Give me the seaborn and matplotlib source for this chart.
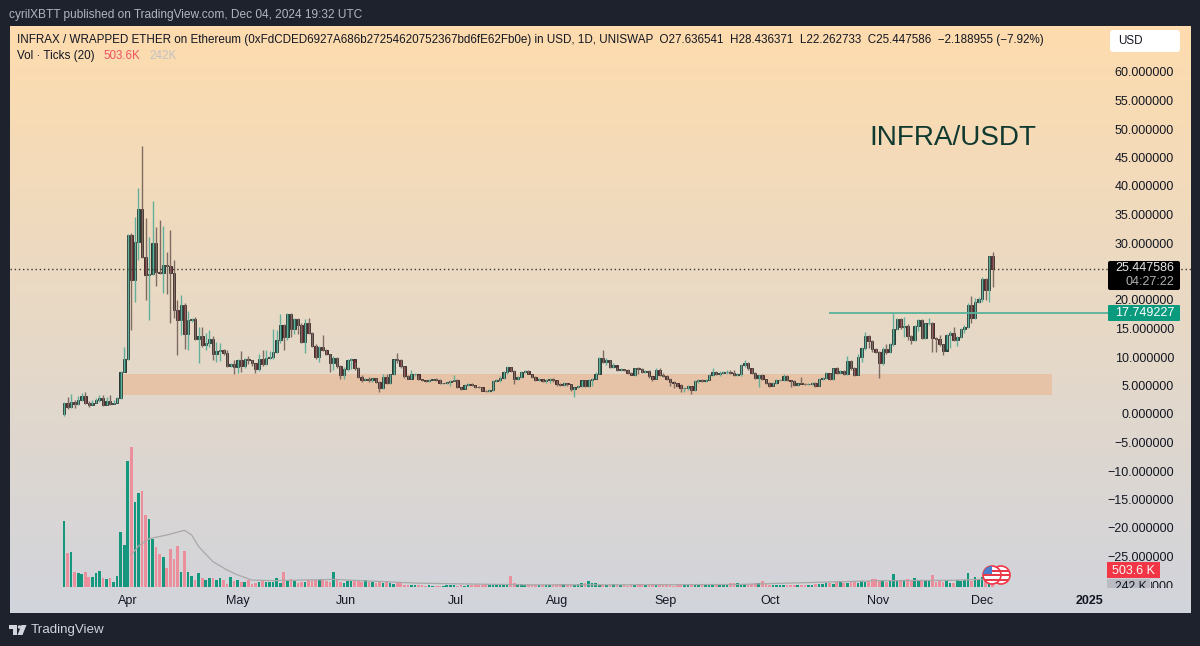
"""
INFRA/USDT daily candles with ticks volume, TradingView style
"""
import numpy as np
import pandas as pd
import matplotlib
matplotlib.use('Agg')
import matplotlib.pyplot as plt
from matplotlib.colors import LinearSegmentedColormap
from matplotlib.patches import Circle, FancyBboxPatch, Polygon, Rectangle
import seaborn as sns

first_open = 0.0
closes = [1.85, 1.3, 2.1, 1.7, 2.5, 3.1, 1.9, 1.6, 1.9, 2.4, 2.8, 1.6, 2.3, 1.8, 2.0, 2.8, 7.4, 9.7, 31.4, 23.5,
          30.2, 36.0, 27.6, 24.4, 24.5, 30.0, 25.0, 24.8, 26.1, 25.9, 24.7, 18.2, 16.5, 19.1, 14.1, 16.5, 16.7, 13.1, 13.7, 12.1,
          12.4, 13.2, 10.6, 11.1, 11.2, 10.7, 8.4, 8.7, 8.2, 9.5, 8.5, 9.6, 9.5, 8.9, 7.9, 9.7, 8.8, 9.9, 10.0, 10.9,
          13.0, 15.6, 13.5, 17.6, 15.0, 16.6, 15.6, 12.7, 15.9, 14.2, 12.0, 10.0, 11.8, 11.2, 10.5, 9.0, 9.9, 8.4, 6.85, 7.85,
          9.5, 9.6, 8.1, 6.55, 5.95, 6.1, 5.9, 6.3, 5.7, 4.5, 6.5, 5.4, 6.95, 9.65, 9.5, 8.4, 6.7, 6.2, 7.0, 7.0,
          6.1, 5.95, 5.8, 6.0, 6.1, 6.0, 5.4, 5.4, 5.6, 5.8, 6.0, 4.7, 4.35, 5.1, 5.3, 5.1, 4.8, 4.7, 4.1, 3.95,
          4.2, 5.85, 6.0, 6.4, 7.3, 8.2, 7.6, 6.1, 6.5, 7.4, 7.5, 7.1, 6.55, 5.95, 6.2, 5.8, 5.9, 6.2, 5.9, 5.2,
          5.1, 5.4, 5.2, 4.3, 4.7, 4.9, 5.9, 4.9, 6.0, 6.2, 7.1, 9.9, 9.2, 9.5, 8.2, 8.6, 7.8, 7.9, 7.8, 7.2,
          6.9, 8.0, 7.9, 7.4, 7.6, 6.6, 6.2, 7.8, 6.9, 6.7, 6.1, 5.6, 5.4, 5.0, 4.5, 4.5, 4.9, 4.2, 5.85, 5.95,
          5.85, 6.0, 6.8, 7.4, 7.0, 7.2, 7.3, 7.35, 7.2, 6.85, 6.95, 8.6, 8.9, 8.0, 7.2, 6.4, 6.85, 6.1, 5.5, 5.0,
          5.4, 5.95, 6.0, 6.75, 5.9, 5.85, 5.1, 5.4, 5.35, 5.2, 5.3, 5.5, 5.0, 6.1, 6.3, 7.15, 6.1, 8.0, 7.2, 7.5,
          7.0, 9.35, 8.0, 6.9, 9.95, 11.5, 13.7, 12.8, 11.35, 10.9, 8.9, 11.35, 10.8, 12.2, 14.9, 16.65, 15.2, 15.4, 13.7, 13.0,
          15.4, 16.5, 13.4, 15.9, 16.0, 13.3, 13.1, 12.2, 11.1, 13.9, 14.15, 12.9, 13.45, 14.85, 15.3, 19.2, 16.8, 19.7, 20.1, 23.6,
          21.75, 27.64, 25.45]
highs = [2.1, 3.0, 3.5, 2.4, 3.1, 3.6, 3.9, 2.2, 2.4, 2.8, 3.3, 3.3, 3.0, 3.4, 2.5, 3.0, 7.5, 11.8, 31.6, 31.8,
         34.6, 39.6, 47.0, 34.3, 31.0, 37.4, 32.8, 34.1, 33.0, 28.5, 32.3, 27.0, 20.0, 20.9, 19.5, 18.0, 16.9, 17.0, 15.3, 15.3,
         14.2, 14.7, 13.6, 12.7, 12.4, 11.4, 11.2, 8.9, 9.4, 9.6, 11.0, 9.8, 10.1, 9.5, 9.0, 10.6, 11.2, 11.2, 11.0, 15.0,
         14.7, 17.6, 15.8, 17.8, 17.7, 16.8, 16.9, 16.0, 16.6, 16.8, 14.4, 12.2, 12.0, 13.8, 11.4, 10.6, 10.1, 10.0, 8.6, 8.3,
         9.7, 9.8, 9.2, 8.3, 6.8, 6.4, 6.5, 6.4, 6.4, 5.8, 7.0, 7.1, 7.1, 9.7, 10.7, 9.6, 8.5, 6.9, 7.8, 7.2,
         6.8, 6.2, 6.0, 6.1, 6.2, 6.4, 6.1, 5.5, 5.7, 5.9, 6.8, 6.1, 4.8, 5.2, 5.4, 5.4, 5.1, 4.9, 4.7, 4.2,
         4.3, 5.9, 6.2, 6.6, 7.5, 8.5, 8.3, 7.7, 6.6, 7.6, 7.7, 7.7, 7.1, 6.6, 6.4, 6.2, 6.1, 6.4, 6.3, 5.9,
         5.4, 5.6, 5.4, 5.2, 4.8, 5.1, 6.0, 6.0, 6.2, 6.3, 7.3, 10.0, 11.2, 9.9, 9.5, 9.0, 8.3, 8.1, 7.95, 7.9,
         7.3, 8.1, 8.3, 8.1, 7.8, 7.7, 6.7, 8.1, 8.0, 7.2, 6.8, 6.3, 5.8, 5.5, 5.3, 4.7, 5.1, 5.0, 6.0, 6.1,
         6.1, 6.2, 7.0, 8.1, 7.6, 7.6, 7.5, 7.7, 7.7, 7.7, 7.2, 8.7, 9.5, 9.2, 8.0, 7.3, 7.0, 7.0, 6.2, 5.6,
         5.6, 6.2, 6.1, 7.0, 6.9, 6.0, 5.9, 5.5, 6.5, 5.4, 5.5, 5.7, 5.6, 6.3, 6.5, 7.3, 7.2, 8.1, 8.2, 7.7,
         7.7, 10.2, 9.5, 8.2, 10.5, 11.7, 14.3, 13.9, 12.9, 11.6, 11.0, 11.8, 12.2, 12.5, 17.8, 16.8, 16.9, 17.0, 15.8, 13.9,
         15.6, 16.7, 16.6, 16.0, 16.9, 16.1, 13.5, 13.9, 12.2, 14.1, 14.6, 15.3, 13.7, 15.1, 15.6, 19.4, 20.7, 20.3, 20.6, 24.0,
         23.9, 27.8, 28.44]
lows = [-0.3, 0.9, 1.0, 1.1, 1.6, 2.2, 1.8, 1.3, 1.5, 1.9, 2.1, 1.4, 1.5, 1.6, 1.7, 2.0, 2.7, 7.3, 9.5, 14.7,
        19.7, 27.0, 27.3, 20.0, 16.5, 24.3, 22.4, 24.5, 21.3, 21.0, 15.9, 16.8, 10.3, 13.8, 11.4, 11.2, 16.2, 13.0, 9.0, 11.8,
        11.2, 11.8, 9.5, 9.2, 9.3, 10.4, 8.2, 8.2, 7.1, 7.2, 7.4, 8.0, 8.7, 8.4, 7.2, 7.6, 8.5, 8.6, 9.6, 9.7,
        10.7, 12.5, 11.2, 13.0, 13.5, 14.0, 14.0, 12.5, 10.7, 14.0, 11.8, 9.7, 9.2, 11.0, 10.3, 7.4, 7.8, 8.0, 6.2, 6.2,
        7.5, 7.9, 7.8, 6.3, 5.7, 5.9, 5.7, 5.6, 5.5, 3.9, 4.4, 5.2, 5.3, 6.9, 9.0, 8.0, 6.4, 6.1, 6.1, 6.7,
        5.9, 5.8, 5.6, 5.7, 5.9, 5.8, 5.2, 5.2, 5.3, 5.0, 5.8, 4.6, 4.2, 4.3, 5.0, 5.0, 4.6, 4.5, 4.0, 3.8,
        3.9, 4.1, 5.6, 5.7, 6.2, 7.0, 7.3, 5.25, 5.9, 6.3, 7.2, 7.0, 6.4, 5.8, 5.8, 5.6, 5.5, 5.5, 5.7, 5.0,
        4.9, 4.9, 4.9, 4.0, 2.9, 4.6, 4.7, 4.7, 4.7, 4.9, 6.1, 7.0, 9.0, 8.6, 8.0, 8.1, 7.6, 7.6, 7.6, 7.0,
        6.8, 6.7, 7.0, 7.2, 7.2, 6.4, 5.8, 6.2, 6.7, 6.5, 5.9, 5.0, 4.6, 4.7, 3.9, 3.9, 4.2, 3.5, 4.1, 5.4,
        5.6, 5.7, 5.9, 6.6, 6.8, 6.7, 7.0, 7.1, 7.0, 6.7, 6.6, 6.6, 8.3, 7.8, 7.0, 6.2, 4.8, 5.9, 5.3, 4.8,
        4.9, 5.3, 5.8, 5.8, 5.8, 4.8, 4.9, 5.0, 5.2, 5.1, 5.1, 5.1, 4.7, 4.9, 6.0, 6.2, 6.0, 5.9, 7.0, 7.0,
        6.8, 6.9, 7.7, 6.6, 6.9, 9.2, 11.3, 11.5, 10.8, 10.7, 6.4, 8.6, 10.6, 10.7, 11.9, 14.7, 14.9, 13.5, 13.0, 12.2,
        12.8, 14.5, 13.1, 13.2, 15.7, 10.8, 10.9, 12.0, 10.3, 11.4, 11.5, 12.8, 12.0, 13.3, 14.2, 15.1, 16.0, 16.7, 19.4, 19.6,
        20.0, 19.6, 22.26]
# volume in K
volumes = [2079, 1050, 1100, 470, 440, 400, 460, 295, 295, 420, 505, 285, 230, 275, 160, 325, 1720, 1300, 3970, 4400,
           2660, 2960, 3020, 2250, 2120, 1510, 1260, 1020, 935, 580, 1200, 860, 1280, 460, 1120, 460, 335, 210, 430, 260,
           220, 285, 260, 220, 270, 210, 85, 295, 180, 210, 160, 135, 200, 95, 125, 160, 200, 160, 135, 145,
           270, 125, 450, 190, 230, 180, 125, 160, 160, 220, 200, 200, 200, 250, 170, 135, 460, 200, 135, 115,
           190, 170, 210, 200, 160, 220, 160, 140, 130, 170, 120, 190, 130, 90, 110, 130, 60, 50, 60, 45,
           40, 50, 35, 45, 30, 25, 35, 30, 45, 50, 40, 35, 45, 30, 40, 50, 55, 45, 60, 70, 55, 50, 65, 60, 70, 85,
           340, 110, 90, 75, 60, 50, 55, 45, 60, 50, 55, 40, 60, 55, 70, 80, 60, 70, 60, 90, 110, 130, 170, 130,
           110, 60, 50, 40, 55, 70, 45, 50, 40, 35, 60, 50, 80, 70, 55, 90, 75, 60, 85, 50, 45,
           40, 35, 55, 50, 45, 60, 40, 50, 60, 45, 40, 55, 60, 70, 50, 45, 90, 110, 130, 120, 90, 80, 60, 70, 110, 130,
           180,
           70, 50, 55, 60, 65, 50, 45, 55, 60, 50, 45, 60, 50, 55, 70, 90, 100,
           110, 130, 90, 150, 170, 130, 110, 160, 190, 120, 170, 150, 180, 230, 240, 170, 190, 140, 200, 400,
           170, 220, 190, 230, 200, 260, 220, 180, 210, 200, 370, 160, 200, 150, 210, 130, 110, 200, 180, 210,
           420, 190, 300, 250, 290, 350, 320, 503.6]
ma_days = [19, 21, 24, 29, 34, 36, 38, 42, 46, 49, 53, 59, 76, 100, 130, 160, 190, 210, 230, 250, 262]
ma_values = [1000, 1280, 1510, 1630, 1775, 1630, 1260, 790, 525, 370, 210, 190, 230, 110, 60, 60, 70, 130, 190, 200, 242]

# 25.000000 sits under the last-price badge in the original, so it is left out
price_ticks = [60, 55, 50, 45, 40, 35, 30, 20, 15, 10, 5, 0, -5, -10, -15, -20, -25]
month_px = [128, 238, 346, 456, 557, 666, 770, 878, 982, 1090]
month_labels = ['Apr', 'May', 'Jun', 'Jul', 'Aug', 'Sep', 'Oct', 'Nov', 'Dec', '2025']
last_price = 25.447586
level_price = 17.749227
zone_low, zone_high = 3.4, 7.05

# pixel layout of the panel
PANEL = (10, 26, 1191, 613)
FIRST_PX, LAST_PX = 64.0, 992.7
ZERO_PY, PX_PER_USD = 414.0, 5.7
VOL_BASE_PY, K_PER_PX = 586.7, 31.5

DARK = '#1e222d'
UP_BODY, DOWN_BODY = '#1a5c4c', '#7c2a36'
UP_WICK, DOWN_WICK = '#62b09b', '#7e6b62'
TEXT = '#131722'

sns.set_theme(style='white')
plt.rcParams['font.family'] = ['Liberation Sans', 'DejaVu Sans']

spacing = (LAST_PX - FIRST_PX) / (len(closes) - 1)


def px_to_day(px):
    return (px - FIRST_PX) / spacing


opens = np.array([first_open] + closes[:-1])
closes_a = np.array(closes)
days = np.arange(len(closes))
rising = closes_a >= opens

fig = plt.figure(figsize=(12, 6.46), dpi=100, facecolor=DARK)
left, top, right, bottom = PANEL
rect = [left / 1200, 1 - bottom / 646, (right - left) / 1200, (bottom - top) / 646]

# gradient behind the chart
ax_bg = fig.add_axes(rect, zorder=0)
cmap = LinearSegmentedColormap.from_list('panel', ['#fedcae', '#e8d9c6', '#d1d4dc'])
ax_bg.imshow(np.linspace(0, 1, 256).reshape(-1, 1), aspect='auto', cmap=cmap)
ax_bg.axis('off')

# candles
ax = fig.add_axes(rect, zorder=1, facecolor='none')
ax.add_patch(Rectangle((px_to_day(122), zone_low), px_to_day(1052) - px_to_day(122), zone_high - zone_low,
                       facecolor='#e9b48f', alpha=0.6, edgecolor='none'))
ax.vlines(days[rising], np.array(lows)[rising], np.array(highs)[rising], color=UP_WICK, lw=1)
ax.vlines(days[~rising], np.array(lows)[~rising], np.array(highs)[~rising], color=DOWN_WICK, lw=1)
ax.bar(days, np.abs(closes_a - opens), bottom=np.minimum(closes_a, opens), width=0.72,
       color=[UP_BODY if r else DOWN_BODY for r in rising], edgecolor='#101010', linewidth=0.5)
ax.axhline(last_price, color='#3a3a3a', lw=1, ls=(0, (1, 2)))
ax.hlines(level_price, px_to_day(829), px_to_day(1108), color='#57b29c', lw=1.3)

ax.set_xlim(px_to_day(left), px_to_day(right))
ax.set_ylim((ZERO_PY - bottom) / PX_PER_USD, (ZERO_PY - top) / PX_PER_USD)
ax.set_yticks(price_ticks)
ax.set_yticklabels([f'{v:.6f}'.replace('-', '\u2212') for v in price_ticks], ha='right', fontsize=9, color=TEXT)
ax.yaxis.tick_right()
ax.tick_params(axis='y', length=0, pad=-12.2)
ax.set_xticks([px_to_day(p) for p in month_px])
ax.set_xticklabels(month_labels, fontsize=9, color=TEXT)
ax.get_xticklabels()[-1].set_fontweight('bold')
ax.tick_params(axis='x', length=0, pad=-13)
sns.despine(ax=ax, left=True, bottom=True, right=True, top=True)

# volume pane shares the panel
vol_df = pd.DataFrame({'day': days, 'vol': volumes,
                       'dir': ['up' if r else 'down' for r in rising]})
ax_vol = fig.add_axes(rect, zorder=2, facecolor='none')
sns.barplot(data=vol_df, x='day', y='vol', hue='dir', palette={'up': '#14977c', 'down': '#ec8f9d'},
            native_scale=True, dodge=False, width=0.75, saturation=1, legend=False, ax=ax_vol,
            linewidth=0, edgecolor='none')
sns.lineplot(x=ma_days, y=ma_values, color='#a8a8a8', lw=0.9, ax=ax_vol)
ax_vol.set_xlim(ax.get_xlim())
ax_vol.set_ylim((VOL_BASE_PY - bottom) * K_PER_PX, (VOL_BASE_PY - top) * K_PER_PX)
ax_vol.axis('off')

# overlay in pixel coordinates for labels and badges
ov = fig.add_axes([0, 0, 1, 1], zorder=3, facecolor='none')
ov.set_xlim(0, 1200)
ov.set_ylim(646, 0)
ov.axis('off')

ov.text(9, 15, 'cyrilXBTT published on TradingView.com, Dec 04, 2024 19:32 UTC', fontsize=8.53, color='#b2b5be', va='center')
ov.text(17, 40, 'INFRAX / WRAPPED ETHER on Ethereum (0xFdCDED6927A686b27254620752367bd6fE62Fb0e) in USD, 1D, UNISWAP'
        '  O27.636541  H28.436371  L22.262733  C25.447586  \u22122.188955 (\u22127.92%)',
        fontsize=8.4, color=TEXT, va='center')
ov.text(17, 56, 'Vol \u00b7 Ticks (20)', fontsize=8.4, color=TEXT, va='center')
ov.text(103, 56, '503.6K', fontsize=8.4, color='#ee5560', va='center')
ov.text(149, 56, '242K', fontsize=8.4, color='#c2c2c2', va='center')
ov.text(869, 138, 'INFRA/USDT', fontsize=20.1, color='#10392f', va='center')

ov.add_patch(FancyBboxPatch((1110, 30), 70, 22, boxstyle='round,pad=0,rounding_size=3', facecolor='white', edgecolor='none'))
ov.text(1118, 41, 'USD', fontsize=8.4, color=TEXT, va='center')

# price badges
ov.add_patch(FancyBboxPatch((1108, 261), 72, 29, boxstyle='round,pad=0,rounding_size=2', facecolor='black', edgecolor='none'))
ov.text(1174, 268, f'{last_price:.6f}', fontsize=9, color='#e8e8e8', va='center', ha='right')
ov.text(1174, 282, '04:27:22', fontsize=9, color='#b0b0b0', va='center', ha='right')
ov.add_patch(FancyBboxPatch((1108, 305), 72, 16, boxstyle='round,pad=0,rounding_size=1', facecolor='#0a9b7f', edgecolor='none'))
ov.text(1174, 313.5, f'{level_price:.6f}', fontsize=9, color='white', va='center', ha='right')

# clipped labels at the foot of the price scale
ov.add_patch(Rectangle((1107, 579), 43, 8.5, facecolor='#b9bbc2', edgecolor='none'))
t1 = ov.text(1174, 587, '0000', fontsize=9, color=TEXT, va='center', ha='right')
t2 = ov.text(1115, 587, '242 K', fontsize=8.8, color=TEXT, va='center')
t1.set_clip_on(True)
t1.set_clip_path(Rectangle((1151, 560), 40, 27.5, transform=ov.transData))
t2.set_clip_on(True)
t2.set_clip_path(Rectangle((1100, 560), 50, 27.5, transform=ov.transData))
ov.add_patch(Rectangle((1107, 562), 53, 16, facecolor='#f23645', edgecolor='none'))
ov.text(1155, 570.5, '503.6 K', fontsize=9, color='#f7f7f7', va='center', ha='right')

# session flags over the last bars
for cx, striped_only in [(1001, True), (992, False)]:
    disc = Circle((cx, 575), 9, facecolor='white', edgecolor='#f23645', lw=1.2)
    ov.add_patch(disc)
    for sy in (570.5, 575, 579.5):
        stripe = Rectangle((cx - 9, sy - 1), 18, 2, facecolor='#e8394a', edgecolor='none')
        ov.add_patch(stripe)
        stripe.set_clip_path(disc)
    if not striped_only:
        canton = Rectangle((cx - 9, 566), 9, 8, facecolor='#4a7fd0', edgecolor='none')
        ov.add_patch(canton)
        canton.set_clip_path(disc)

# logo
ov.add_patch(Polygon([(9, 625), (17, 625), (17, 635), (13, 635), (13, 629), (9, 629)], facecolor='#d1d4dc', edgecolor='none'))
ov.add_patch(Circle((19.5, 627), 1.7, facecolor='#d1d4dc', edgecolor='none'))
ov.add_patch(Polygon([(21.5, 625), (26.5, 625), (22.5, 635), (17.5, 635)], facecolor='#d1d4dc', edgecolor='none'))
ov.text(31, 630, 'TradingView', fontsize=9.6, color='#d1d4dc', va='center')

plt.savefig('out.png', dpi=100, facecolor=DARK)
plt.close()
